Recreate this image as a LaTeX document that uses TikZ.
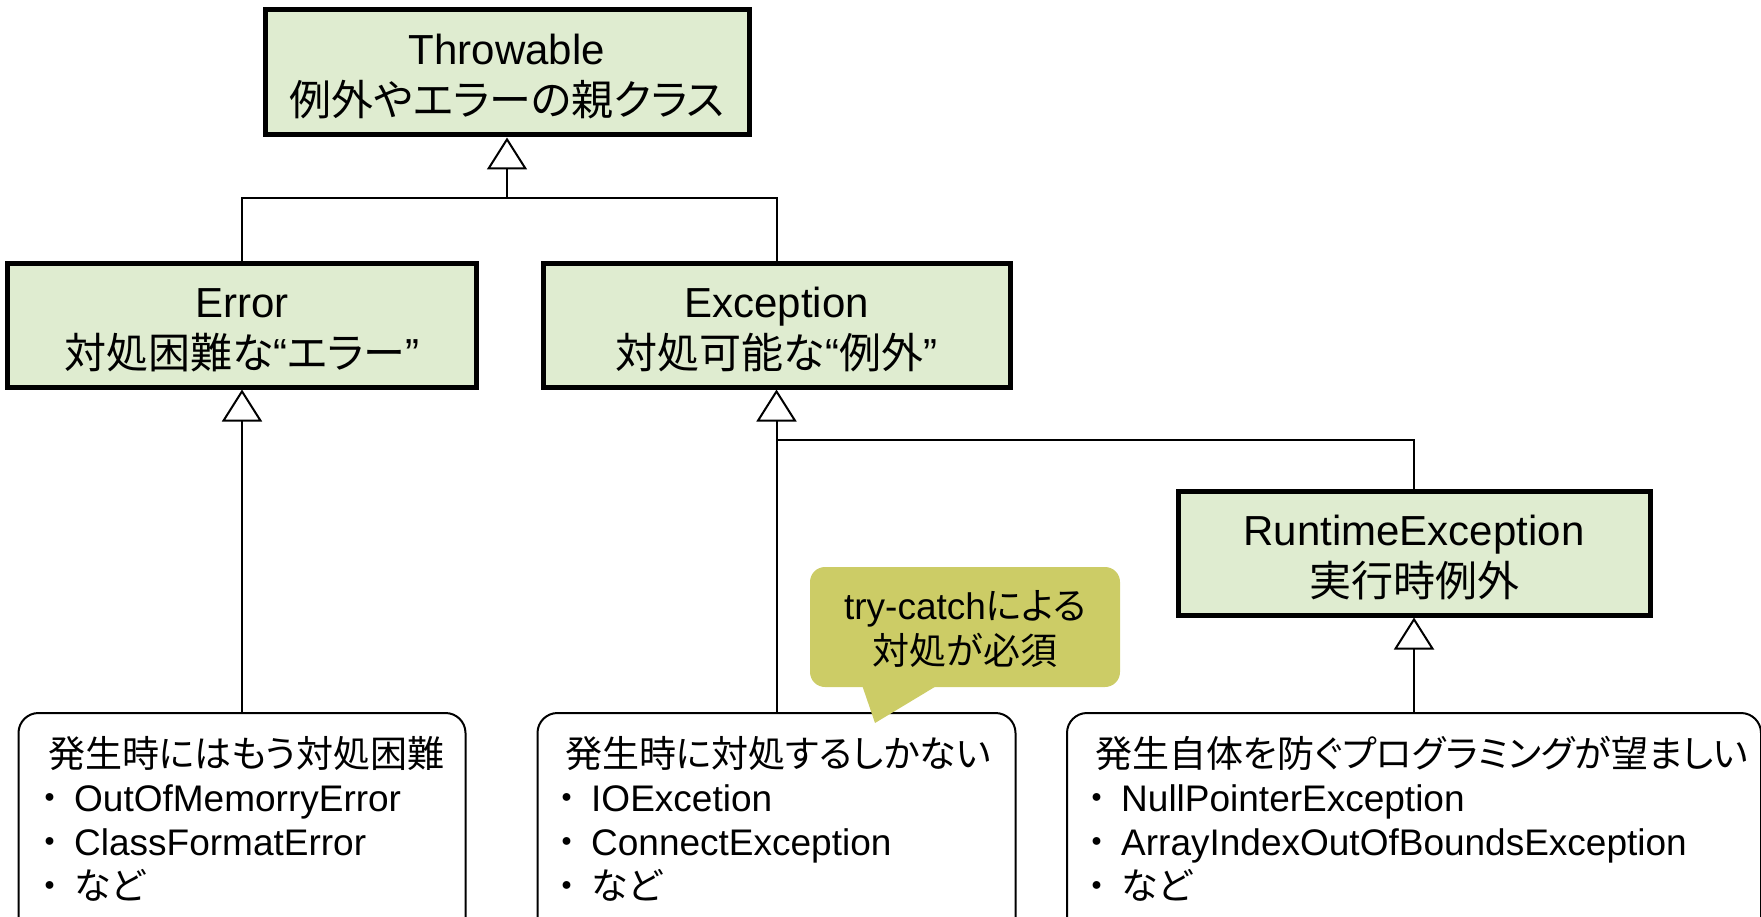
\documentclass[tikz,border=0pt]{standalone}
\usepackage{fontspec}
\setmainfont{Liberation Sans}
\newfontfamily\jpfont[RawFeature=+palt]{Noto Sans CJK JP}
\usetikzlibrary{arrows.meta}
\definecolor{boxgreen}{RGB}{223,236,208}
\definecolor{calloutol}{RGB}{204,204,102}
\newcommand\J[1]{{\jpfont #1}}
\newcommand\bul{\makebox[26pt][l]{\hspace{-7pt}\J{・}}}
\newcommand\lift{\rule{0pt}{39pt}}
\begin{document}
\begin{tikzpicture}[x=1pt,y=-1pt,
  classbox/.style={draw, line width=5pt, fill=boxgreen, minimum width=#1,
    minimum height=123pt, align=center, inner sep=0pt,
    font=\fontsize{42}{51}\selectfont},
  descbox/.style={draw, line width=2pt, rounded corners=20pt, fill=white,
    minimum width=#1, minimum height=260pt, anchor=north},
  desctext/.style={anchor=north west, align=left, inner sep=0pt,
    font=\fontsize{37}{44}\selectfont},
  conn/.style={line width=2pt},
  gen/.style={-{Triangle[open,length=32pt,width=40pt]}}
]
\useasboundingbox (0,0) rectangle (1761,917);
\clip (0,0) rectangle (1761,917);

% class boxes
\node[classbox=484pt, minimum height=125pt] (throwable) at (507,72.5)
  {\lift Throwable\\\J{例外やエラーの親クラス}};
\node[classbox=469pt] (error) at (242,325.5)
  {\lift Error\\\J{対処困難な}“\J{エラー}”};
\node[classbox=467pt] (exception) at (776.5,325.5)
  {\lift Exception\\\J{対処可能な}“\J{例外}”};
\node[classbox=472pt, minimum height=124pt] (runtime) at (1414,553)
  {\lift RuntimeException\\\J{実行時例外}};

% description boxes
\node[descbox=447pt] (errdesc) at (242,712) {};
\node[descbox=478pt] (excdesc) at (776.5,712) {};
\node[descbox=694pt] (rtdesc) at (1414,712) {};

\node[desctext] (errtext) at (48,736)
  {\J{発生時にはもう対処困難}\\\bul OutOfMemorryError\\\bul ClassFormatError\\\bul\J{など}};
\node[desctext] (exctext) at (565,736)
  {\J{発生時に対処するしかない}\\\bul IOExcetion\\\bul ConnectException\\\bul\J{など}};
\node[desctext] (rttext) at (1095,736)
  {\J{発生自体を防ぐプログラミングが望ましい}\\\bul NullPointerException\\\bul ArrayIndexOutOfBoundsException\\\bul\J{など}};

% connectors
\coordinate (tj) at (507,198);
\draw[conn] (error.north) |- (tj) -| (exception.north);
\draw[conn, gen] (tj) -- (throwable.south);
\draw[conn, gen] (errdesc.north) -- (error.south);
\draw[conn, gen] (excdesc.north) -- (exception.south);
\coordinate (ej) at (776.5,440);
\draw[conn] (ej) -| (runtime.north);
\draw[conn, gen] (rtdesc.north) -- (runtime.south);

% callout
\node[fill=calloutol, rounded corners=15pt, minimum width=310pt,
  minimum height=120pt, align=center, inner sep=0pt,
  font=\fontsize{37}{45}\selectfont] (callout) at (965,627)
  {\rule{0pt}{33pt}try-catch\J{による}\\\J{対処が必須}};
\fill[calloutol] (862,685) -- (875,723) -- (938,685) -- cycle;
\end{tikzpicture}
\end{document}
